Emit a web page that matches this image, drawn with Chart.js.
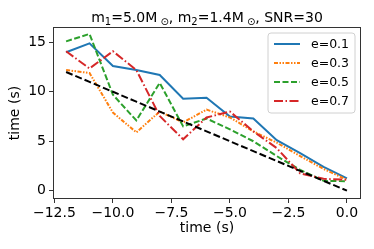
<!DOCTYPE html>
<html>
<head>
<meta charset="utf-8">
<script src="https://cdn.jsdelivr.net/npm/chart.js@4"></script>
<style>
  html, body { margin: 0; padding: 0; background: #fff; }
  #wrap { width: 374px; height: 249px; }
</style>
</head>
<body>
<div id="wrap"><canvas id="timeChart" width="374" height="249"></canvas></div>
<script>
// Data
const times = [-12, -11, -10, -9, -8, -7, -6, -5, -4, -3, -2, -1, 0];
const e01 = [14.0, 14.9, 12.6, 12.2, 11.7, 9.3, 9.4, 7.5, 7.3, 5.1, 3.8, 2.4, 1.25];
const e03 = [12.2, 11.9, 7.9, 5.9, 8.0, 6.9, 8.2, 7.4, 6.0, 4.85, 3.5, 2.2, 1.1];
const e05 = [15.1, 15.85, 9.7, 7.1, 10.9, 6.5, 7.3, 6.2, 5.0, 3.5, 2.1, 1.0, 0.95];
const e07 = [14.1, 12.35, 14.1, 12.2, 7.55, 5.2, 7.4, 8.0, 6.0, 4.3, 1.75, 1.2, 1.1];
const truth = [12, 11, 10, 9, 8, 7, 6, 5, 4, 3, 2, 1, 0];
const xTicks = [-12.5, -10.0, -7.5, -5.0, -2.5, 0.0];
const yTicks = [0, 5, 10, 15];
const seriesLabels = ['e=0.1', 'e=0.3', 'e=0.5', 'e=0.7'];

const FONT = '"DejaVu Sans", sans-serif';
const AXIS_COLOR = '#333';

function points(ys) {
    return times.map((t, i) => ({ x: t, y: ys[i] }));
}

function lineSet(label, ys, color, dash, order) {
    return {
        label: label,
        data: points(ys),
        borderColor: color,
        backgroundColor: color,
        borderWidth: 2,
        borderDash: dash,
        pointRadius: 0,
        tension: 0,
        order: order
    };
}

// Title with subscripts, drawn as text pieces
const titlePlugin = {
    id: 'mplTitle',
    afterDraw(chart) {
        const ctx = chart.ctx;
        const big = '14px ' + FONT;
        const small = '10px ' + FONT;
        const parts = [
            ['m', big, 0], ['1', small, 3], ['=5.0M', big, 0], [' \u2299', small, 3],
            [', m', big, 0], ['2', small, 3], ['=1.4M', big, 0], [' \u2299', small, 3],
            [', SNR=30', big, 0]
        ];
        ctx.save();
        let total = 0;
        parts.forEach(p => { ctx.font = p[1]; total += ctx.measureText(p[0]).width; });
        const ca = chart.chartArea;
        let x = (ca.left + ca.right) / 2 - total / 2;
        const base = 21.5;
        ctx.fillStyle = '#000';
        ctx.textBaseline = 'alphabetic';
        ctx.textAlign = 'left';
        parts.forEach(p => {
            ctx.font = p[1];
            ctx.fillText(p[0], x, base + p[2]);
            x += ctx.measureText(p[0]).width;
        });
        ctx.restore();
    }
};

// Frame around the plot area plus the legend box
const framePlugin = {
    id: 'mplFrame',
    afterDraw(chart) {
        const ctx = chart.ctx;
        const ca = chart.chartArea;
        ctx.save();
        ctx.strokeStyle = AXIS_COLOR;
        ctx.lineWidth = 1;
        ctx.setLineDash([]);
        ctx.strokeRect(Math.round(ca.left) + 0.5, Math.round(ca.top) + 0.5,
            Math.round(ca.right - ca.left) - 1, Math.round(ca.bottom - ca.top) - 1);

        // legend
        const bx = 268, by = 33, bw = 87, bh = 80, r = 3;
        ctx.beginPath();
        ctx.moveTo(bx + r, by);
        ctx.arcTo(bx + bw, by, bx + bw, by + bh, r);
        ctx.arcTo(bx + bw, by + bh, bx, by + bh, r);
        ctx.arcTo(bx, by + bh, bx, by, r);
        ctx.arcTo(bx, by, bx + bw, by, r);
        ctx.closePath();
        ctx.fillStyle = 'rgba(255,255,255,0.8)';
        ctx.fill();
        ctx.strokeStyle = '#d0d0d0';
        ctx.stroke();

        const rows = [44, 63, 82, 101];
        ctx.font = '12.5px ' + FONT;
        ctx.textBaseline = 'middle';
        ctx.textAlign = 'left';
        for (let i = 0; i < seriesLabels.length; i++) {
            const ds = chart.data.datasets[i];
            ctx.strokeStyle = ds.borderColor;
            ctx.lineWidth = ds.borderWidth;
            ctx.setLineDash(ds.borderDash || []);
            ctx.beginPath();
            ctx.moveTo(274, rows[i]);
            ctx.lineTo(300, rows[i]);
            ctx.stroke();
            ctx.setLineDash([]);
            ctx.fillStyle = '#000';
            ctx.fillText(seriesLabels[i], 311, rows[i] + 1);
        }
        ctx.restore();
    }
};

function fmtX(v) {
    const s = v.toFixed(1);
    return v < 0 ? '\u2212' + s.slice(1) : s;
}

const ctx = document.getElementById('timeChart').getContext('2d');
new Chart(ctx, {
    type: 'line',
    data: {
        datasets: [
            lineSet(seriesLabels[0], e01, '#1f77b4', [], 5),
            lineSet(seriesLabels[1], e03, '#ff7f0e', [4, 1.5, 1.5, 1.5, 1.5, 1.5], 4),
            lineSet(seriesLabels[2], e05, '#2ca02c', [6, 2.5], 3),
            lineSet(seriesLabels[3], e07, '#d62728', [9, 2.5, 1.5, 2.5], 2),
            lineSet('truth', truth, '#000000', [7, 3], 1)
        ]
    },
    options: {
        responsive: false,
        animation: false,
        layout: {
            padding: { top: 27, right: 13, left: 0, bottom: 0 }
        },
        plugins: {
            legend: { display: false },
            tooltip: { enabled: false },
            title: { display: false }
        },
        scales: {
            x: {
                type: 'linear',
                min: -12.56,
                max: 0.6,
                afterBuildTicks: scale => { scale.ticks = xTicks.map(v => ({ value: v })); },
                afterFit: scale => { scale.height = 50; },
                border: { display: false },
                grid: {
                    drawOnChartArea: false,
                    drawTicks: true,
                    tickLength: 4,
                    color: AXIS_COLOR
                },
                ticks: {
                    color: '#000',
                    padding: 2,
                    maxRotation: 0,
                    autoSkip: false,
                    font: { family: FONT, size: 14 },
                    callback: v => fmtX(v)
                },
                title: {
                    display: true,
                    text: 'time (s)',
                    color: '#000',
                    font: { family: FONT, size: 14 },
                    padding: { top: 0, bottom: 12 }
                }
            },
            y: {
                type: 'linear',
                min: -0.84,
                max: 16.55,
                afterBuildTicks: scale => { scale.ticks = yTicks.map(v => ({ value: v })); },
                afterFit: scale => { scale.width = 53; },
                border: { display: false },
                grid: {
                    drawOnChartArea: false,
                    drawTicks: true,
                    tickLength: 4,
                    color: AXIS_COLOR
                },
                ticks: {
                    color: '#000',
                    padding: 3,
                    autoSkip: false,
                    font: { family: FONT, size: 14 },
                    callback: v => String(v)
                },
                title: {
                    display: true,
                    text: 'time (s)',
                    color: '#000',
                    font: { family: FONT, size: 14 },
                    padding: { top: 7, bottom: 0 }
                }
            }
        }
    },
    plugins: [titlePlugin, framePlugin]
});
</script>
</body>
</html>
